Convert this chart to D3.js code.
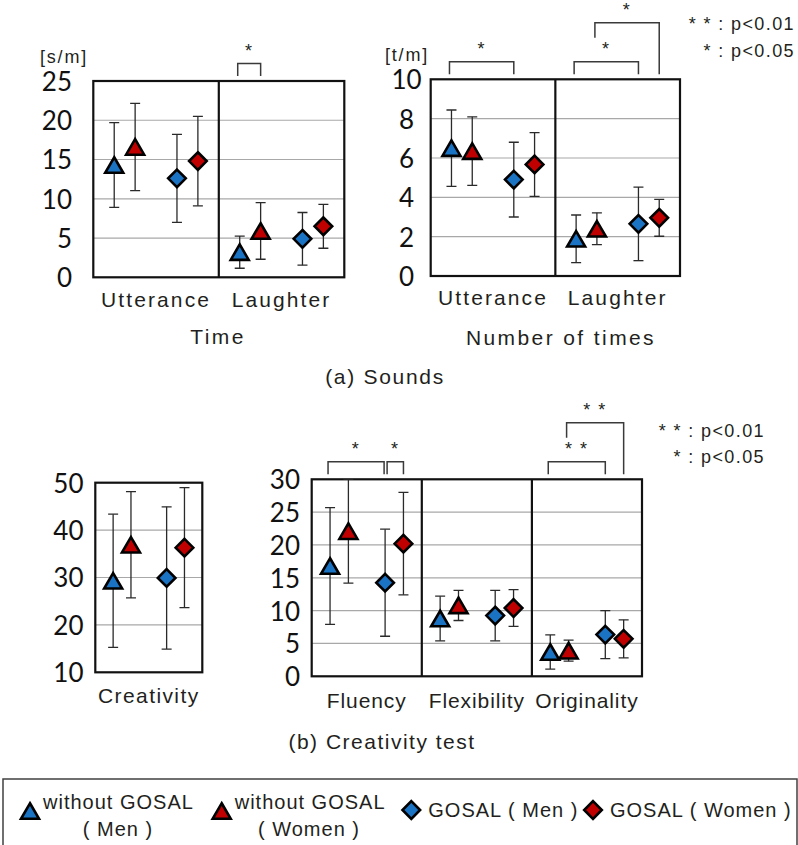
<!DOCTYPE html>
<html><head><meta charset="utf-8">
<script src="https://cdn.jsdelivr.net/npm/d3@7"></script>
<style>body{margin:0;background:#fff} svg{display:block}</style>
</head><body><svg id="c" width="798" height="845"></svg>
<script>
// ---------- DATA ----------
const seriesNames = ["without GOSAL ( Men )", "without GOSAL ( Women )", "GOSAL ( Men )", "GOSAL ( Women )"];
const soundCats = ["Utterance", "Laughter"];
const timeMean = [[14.3, 16.6, 12.6, 14.8], [3.2, 5.9, 4.9, 6.5]];
const timeSD   = [[5.4, 5.55, 5.6, 5.7], [2.05, 3.6, 3.35, 2.8]];
const countMean = [[6.5, 6.35, 4.9, 5.67], [1.89, 2.4, 2.65, 2.96]];
const countSD   = [[1.94, 1.74, 1.9, 1.62], [1.21, 0.81, 1.87, 0.94]];
const creativityCats = ["Creativity"];
const creativityMean = [[29.3, 36.9, 29.9, 36.3]];
const creativitySD   = [[14.05, 11.2, 15.0, 12.65]];
const testCats = ["Fluency", "Flexibility", "Originality"];
const testMean = [[16.8, 22.1, 14.25, 20.2], [8.8, 10.8, 9.25, 10.4], [3.7, 3.9, 6.35, 5.7]];
const testSD   = [[8.9, 7.9, 8.15, 7.8], [3.4, 2.3, 3.85, 2.8], [2.6, 1.6, 3.65, 2.9]];
const timeTicks = [0, 5, 10, 15, 20, 25];
const countTicks = [0, 2, 4, 6, 8, 10];
const creativityTicks = [10, 20, 30, 40, 50];
const testTicks = [0, 5, 10, 15, 20, 25, 30];
const timeSig = [{cat: 1, from: 0, to: 1, level: 0, label: "*"}];
const countSig = [{cat: 0, from: 0, to: 2, level: 0, label: "*"}, {cat: 1, from: 0, to: 2, level: 0, label: "*"}, {cat: 1, from: 1, to: 3, level: 1, label: "*"}];
const testSig = [{cat: 0, from: 0, to: 2, level: 0, label: "*"}, {cat: 0, from: 2, to: 3, level: 0, label: "*"}, {cat: 2, from: 0, to: 2, level: 0, label: "* *"}, {cat: 2, from: 1, to: 3, level: 1, label: "* *"}];
const noteLines = ["* * : p<0.01", "* : p<0.05"];

// ---------- STYLE ----------
const fills = ["#1b74c3", "#c00000", "#1b74c3", "#c00000"];
const shapes = ["tri", "tri", "dia", "dia"];
const slots = [1, 2, 4, 5];
const TXT = "'Liberation Sans', Arial, sans-serif";
const NUM = "Lato, 'Noto Sans', sans-serif";

const svg = d3.select("#c");

function markerPath(shape) {
  if (shape === "tri") { const w = 18, h = 15.5; return `M0,${-h/2}L${w/2},${h/2}L${-w/2},${h/2}Z`; }
  const r = 8.8; return `M0,${-r}L${r},0L0,${r}L${-r},0Z`;
}

function drawChart(cfg) {
  const g = svg.append("g");
  const y = d3.scaleLinear().domain([cfg.ticks[0], cfg.ticks[cfg.ticks.length - 1]]).range([cfg.y1, cfg.y0]);
  const xb = d3.scaleBand().domain(cfg.cats).range([cfg.x0, cfg.x1]);
  const xs = d3.scaleLinear().domain([0, 6]).range([0, xb.bandwidth()]);
  const px = (c, s) => xb(cfg.cats[c]) + xs(slots[s]);
  const clipId = "clip" + cfg.id;
  svg.append("clipPath").attr("id", clipId).append("rect")
    .attr("x", cfg.x0).attr("y", cfg.y0).attr("width", cfg.x1 - cfg.x0).attr("height", cfg.y1 - cfg.y0);

  // gridlines
  g.selectAll(".grid").data(cfg.ticks.slice(1, -1)).join("line")
    .attr("x1", cfg.x0).attr("x2", cfg.x1).attr("y1", d => y(d)).attr("y2", d => y(d))
    .attr("stroke", "#a8a8a8").attr("stroke-width", 1.2);

  // y tick labels
  const ax = g.append("g").attr("transform", `translate(${cfg.tickX},0)`)
    .call(d3.axisLeft(y).tickValues(cfg.ticks).tickSize(0).tickPadding(0).tickFormat(d3.format("d")));
  ax.select(".domain").remove();
  ax.selectAll("text").attr("font-family", NUM).attr("font-size", cfg.tickSize).attr("fill", "#111")
    .attr("text-anchor", cfg.tickAnchor).attr("dy", "0.36em");

  // box and dividers
  g.append("rect").attr("x", cfg.x0).attr("y", cfg.y0).attr("width", cfg.x1 - cfg.x0).attr("height", cfg.y1 - cfg.y0)
    .attr("fill", "none").attr("stroke", "#111").attr("stroke-width", 2.2);
  g.selectAll(".div").data(cfg.cats.slice(1)).join("line")
    .attr("x1", d => xb(d)).attr("x2", d => xb(d)).attr("y1", cfg.y0).attr("y2", cfg.y1)
    .attr("stroke", "#111").attr("stroke-width", 2.2);

  // category labels
  g.selectAll(".cat").data(cfg.cats).join("text")
    .attr("x", d => xb(d) + xb.bandwidth() / 2).attr("y", cfg.catY)
    .attr("text-anchor", "middle").attr("font-family", TXT).attr("font-size", 21)
    .attr("letter-spacing", cfg.catLS).attr("fill", "#231f20").text(d => d);

  // points
  const pts = [];
  cfg.means.forEach((row, c) => row.forEach((m, s) => pts.push({c, s, m, sd: cfg.sds[c][s]})));
  const eb = g.append("g").attr("clip-path", `url(#${clipId})`).attr("stroke", "#2a2a2a").attr("stroke-width", 1.3);
  pts.forEach(p => {
    const x = px(p.c, p.s), yt = y(p.m + p.sd), yb = y(p.m - p.sd);
    eb.append("line").attr("x1", x).attr("x2", x).attr("y1", yt).attr("y2", yb);
    eb.append("line").attr("x1", x - 5).attr("x2", x + 5).attr("y1", yt).attr("y2", yt);
    eb.append("line").attr("x1", x - 5).attr("x2", x + 5).attr("y1", yb).attr("y2", yb);
  });
  g.selectAll(".pt").data(pts).join("path")
    .attr("transform", p => `translate(${px(p.c, p.s)},${y(p.m)})`)
    .attr("d", p => markerPath(shapes[p.s])).attr("fill", p => fills[p.s])
    .attr("stroke", "#000").attr("stroke-width", 2.6).attr("stroke-linejoin", "miter");

  // significance brackets
  (cfg.sig || []).forEach(b => {
    const sharedL = cfg.sig.some(o => o !== b && o.cat === b.cat && o.to === b.from && o.level === b.level);
    const sharedR = cfg.sig.some(o => o !== b && o.cat === b.cat && o.from === b.to && o.level === b.level);
    const xl = px(b.cat, b.from) - 2 + (sharedL ? 4 : 0), xr = px(b.cat, b.to) - (sharedR ? 1 : 0);
    const top = cfg.y0 - (b.level === 0 ? 17.5 : 56.5);
    const bot = cfg.y0 - 5;
    const leftBot = b.level === 0 ? bot : top + 15;
    g.append("path").attr("d", `M${xl},${leftBot}V${top}H${xr}V${bot}`)
      .attr("fill", "none").attr("stroke", "#3a3a3a").attr("stroke-width", 1.5);
    g.append("text").attr("x", (xl + xr) / 2).attr("y", top - 7).attr("text-anchor", "middle")
      .attr("font-family", TXT).attr("font-size", 18).attr("letter-spacing", 1.5).attr("fill", "#231f20").text(b.label);
  });

  if (cfg.unit) g.append("text").attr("x", cfg.unitX).attr("y", cfg.unitY).attr("text-anchor", "middle")
    .attr("font-family", TXT).attr("font-size", 18).attr("letter-spacing", 1.8).attr("fill", "#231f20").text(cfg.unit);
  if (cfg.title) g.append("text").attr("x", cfg.titleX).attr("y", cfg.titleY).attr("text-anchor", "middle")
    .attr("font-family", TXT).attr("font-size", 21).attr("letter-spacing", 2.4).attr("fill", "#231f20").text(cfg.title);
}

drawChart({id: "a1", x0: 93.3, x1: 344.3, y0: 81, y1: 277.3, ticks: timeTicks, cats: soundCats, means: timeMean, sds: timeSD,
  sig: timeSig, tickX: 72, tickAnchor: "end", tickSize: 26, catY: 307, catLS: 2.1, unit: "[s/m]", unitX: 64, unitY: 63, title: "Time", titleX: 218, titleY: 344});
drawChart({id: "a2", x0: 430.7, x1: 680, y0: 79.3, y1: 276, ticks: countTicks, cats: soundCats, means: countMean, sds: countSD,
  sig: countSig, tickX: 406.5, tickAnchor: "middle", tickSize: 26, catY: 305, catLS: 2.1, unit: "[t/m]", unitX: 407, unitY: 61, title: "Number of times", titleX: 561, titleY: 345});
drawChart({id: "b1", x0: 95.3, x1: 202.3, y0: 482.7, y1: 672.3, ticks: creativityTicks, cats: creativityCats, means: creativityMean, sds: creativitySD,
  tickX: 83.5, tickAnchor: "end", tickSize: 26, catY: 703, catLS: 1.4});
drawChart({id: "b2", x0: 311.7, x1: 642, y0: 479.3, y1: 676.3, ticks: testTicks, cats: testCats, means: testMean, sds: testSD,
  sig: testSig, tickX: 300, tickAnchor: "end", tickSize: 26, catY: 708, catLS: 0.9});

// p-value notes
function notes(xr, y0) {
  noteLines.forEach((t, i) => svg.append("text").attr("x", xr).attr("y", y0 + i * 26.5).attr("text-anchor", "end")
    .attr("font-family", TXT).attr("font-size", 18).attr("letter-spacing", 1.4).attr("fill", "#231f20").text(t));
}
notes(795, 30); notes(765, 436.5);

// captions
svg.append("text").attr("x", 385).attr("y", 384).attr("text-anchor", "middle").attr("font-family", TXT)
  .attr("font-size", 21).attr("letter-spacing", 1.7).attr("fill", "#231f20").text("(a) Sounds");
svg.append("text").attr("x", 382).attr("y", 749).attr("text-anchor", "middle").attr("font-family", TXT)
  .attr("font-size", 21).attr("letter-spacing", 1.5).attr("fill", "#231f20").text("(b) Creativity test");

// legend
svg.append("rect").attr("x", 3).attr("y", 779).attr("width", 794).attr("height", 80)
  .attr("fill", "none").attr("stroke", "#404040").attr("stroke-width", 1.5);
const legX = d3.scaleOrdinal().domain(d3.range(4)).range([30, 221.7, 411.3, 593]);
seriesNames.forEach((name, i) => {
  const lx = legX(i);
  svg.append("path").attr("transform", `translate(${lx},${i < 2 ? 811 : 810})`).attr("d", markerPath(shapes[i]))
    .attr("fill", fills[i]).attr("stroke", "#000").attr("stroke-width", 2.6);
  const t = svg.append("text").attr("font-family", TXT).attr("font-size", 20).attr("letter-spacing", 1)
    .attr("fill", "#231f20");
  if (i < 2) {
    const parts = name.split(" ( ");
    t.append("tspan").attr("x", lx + 13).attr("y", 809).text(parts[0]);
    const sub = "( " + parts[1];
    svg.append("text").attr("font-family", TXT).attr("font-size", 20).attr("letter-spacing", 1).attr("fill", "#231f20")
      .attr("x", i === 0 ? 118 : 309).attr("y", 836).attr("text-anchor", "middle").text(sub);
  } else {
    t.attr("x", lx + 17).attr("y", 817).text(name);
  }
});
</script></body></html>
